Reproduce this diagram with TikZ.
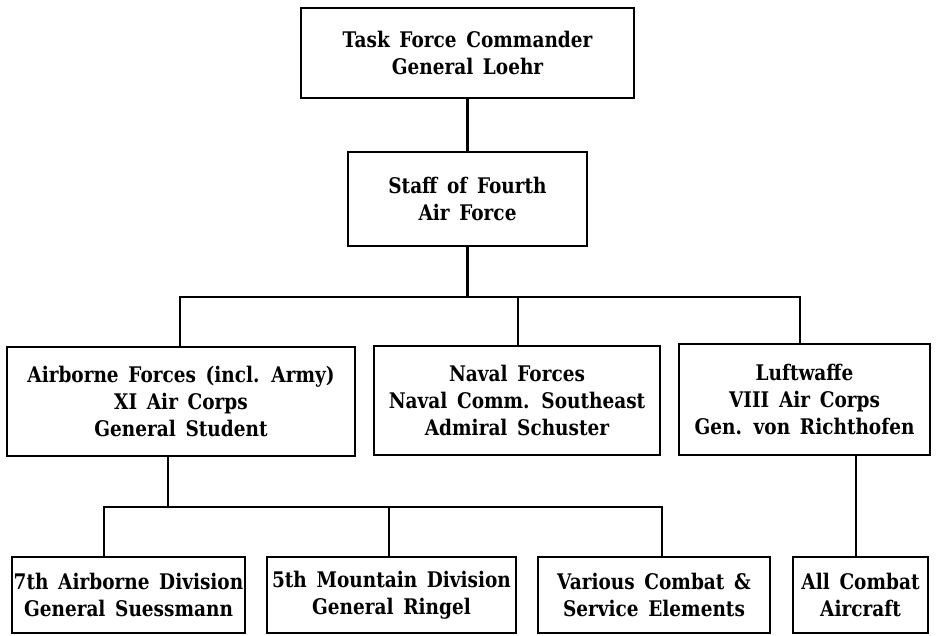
\documentclass[tikz,border=0pt]{standalone}
\usepackage{fontspec}
\setmainfont{DejaVu Serif}[FakeStretch=0.86,WordSpace=1.5]
\begin{document}
\begin{tikzpicture}[x=1pt,y=-1pt,
  box/.style={draw, line width=2.6pt, align=center, inner sep=0pt,
    font=\fontsize{21.5}{27}\selectfont\bfseries},
  conn/.style={line width=2.6pt}]
\useasboundingbox (0,0) rectangle (936,635);
\fill[white] (0,0) rectangle (936,635);
% level 0/1
\node[box, minimum width=333pt, minimum height=90pt] (top) at (467.5,53) {Task Force Commander\\General Loehr};
\node[box, minimum width=239pt, minimum height=94pt] (staff) at (467.5,199) {Staff of Fourth\\Air Force};
% level 2
\node[box, minimum width=348pt, minimum height=109pt] (air) at (181,401.5) {Airborne Forces (incl. Army)\\XI Air Corps\\General Student};
\node[box, minimum width=286pt, minimum height=109pt] (naval) at (517,400.5) {Naval Forces\\Naval Comm. Southeast\\Admiral Schuster};
\node[box, minimum width=251pt, minimum height=111pt] (luft) at (804.5,399.5) {Luftwaffe\\VIII Air Corps\\Gen. von Richthofen};
% level 3
\node[box, minimum width=233pt, minimum height=76pt] (b1) at (128.5,595) {7th Airborne Division\\General Suessmann};
\node[box, minimum width=249pt, minimum height=76pt] (b2) at (391.5,595) {5th Mountain Division\\General Ringel};
\node[box, minimum width=232pt, minimum height=76pt] (b3) at (654,595) {Various Combat \&\\Service Elements};
\node[box, minimum width=135pt, minimum height=76pt] (b4) at (860.5,595) {All Combat\\Aircraft};
% junction coordinates
\coordinate (j1) at (467.5,297);
\coordinate (h1l) at (180,297);
\coordinate (h1m) at (518,297);
\coordinate (h1r) at (800,297);
\coordinate (j2) at (168,507);
\coordinate (h2l) at (104,507);
\coordinate (h2m) at (389,507);
\coordinate (h2r) at (662,507);
\coordinate (j3) at (856,0);
% connectors
\draw[conn] (top.south) -- (staff.north);
\draw[conn] (staff.south) -- (j1);
\draw[conn] (h1l |- air.north) -- (h1l) -- (h1r) -- (h1r |- luft.north);
\draw[conn] (h1m) -- (h1m |- naval.north);
\draw[conn] (j2 |- air.south) -- (j2);
\draw[conn] (h2l |- b1.north) -- (h2l) -- (h2r) -- (h2r |- b3.north);
\draw[conn] (h2m) -- (h2m |- b2.north);
\draw[conn] (j3 |- luft.south) -- (j3 |- b4.north);
\end{tikzpicture}
\end{document}
